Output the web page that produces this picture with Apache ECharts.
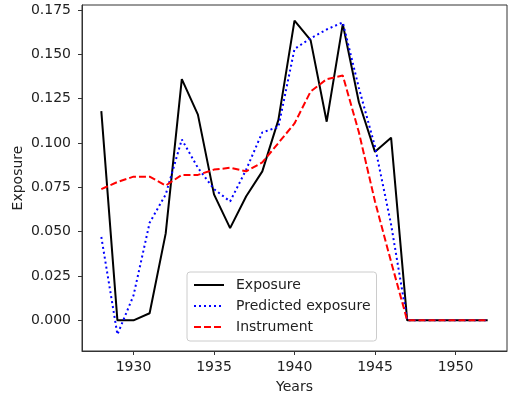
<!DOCTYPE html>
<html>
<head>
<meta charset="UTF-8">
<title>Exposure</title>
<script src="https://cdn.jsdelivr.net/npm/echarts@6/dist/echarts.min.js"></script>
<style type="text/css">
body{ margin:0; padding:0; background:#fff; }
#chart{ width:513px; height:397px; }
</style>
</head>
<body>
<div id="chart"></div>
<script type="text/javascript">
var years = [1928,1929,1930,1931,1932,1933,1934,1935,1936,1937,1938,1939,1940,1941,1942,1943,1944,1945,1946,1947,1948,1949,1950,1951,1952];
var exposure = [0.118,0.000,0.000,0.004,0.049,0.136,0.116,0.071,0.052,0.070,0.084,0.113,0.169,0.158,0.112,0.167,0.123,0.095,0.103,0,0,0,0,0,0];
var predicted = [0.047,-0.008,0.014,0.055,0.071,0.102,0.086,0.074,0.067,0.085,0.106,0.109,0.153,0.159,0.164,0.168,0.131,0.098,0.054,0,0,0,0,0,0];
var instrument = [0.074,0.078,0.081,0.081,0.076,0.082,0.082,0.085,0.086,0.084,0.089,0.100,0.111,0.129,0.136,0.138,0.106,0.067,0.033,0,0,0,0,0,0];
var xTicks = [1930,1935,1940,1945,1950];
var yTicks = [0,0.025,0.05,0.075,0.1,0.125,0.15,0.175];

function pairs(v){
  var out = [];
  for (var i = 0; i < years.length; i++) out.push([years[i], v[i]]);
  return out;
}

var myChart = echarts.init(document.getElementById('chart'));
var font = 'DejaVu Sans';

var option = {
  animation: false,
  grid: { left: 82, right: 6, top: 5, bottom: 46, show: true, borderColor: '#333', borderWidth: 1,
    outerBoundsMode: 'none', containLabel: false },
  xAxis: {
    type: 'value', min: 1926.8, max: 1953.2,
    name: 'Years', nameLocation: 'middle', nameGap: 29, nameMoveOverlap: false,
    nameTextStyle: { fontFamily: font, fontSize: 14, color: '#222' },
    axisLine: { show: true, onZero: false, lineStyle: { color: '#333' } },
    axisTick: { show: true, length: 4, customValues: xTicks, lineStyle: { color: '#333' } },
    axisLabel: { customValues: xTicks, fontFamily: font, fontSize: 14, color: '#222', margin: 9,
      formatter: function(v){ return String(v); } },
    splitLine: { show: false }
  },
  yAxis: {
    type: 'value', min: -0.0173, max: 0.1778,
    name: 'Exposure', nameLocation: 'middle', nameGap: 57, nameMoveOverlap: false,
    nameTextStyle: { fontFamily: font, fontSize: 14, color: '#222' },
    axisLine: { show: true, onZero: false, lineStyle: { color: '#333' } },
    axisTick: { show: true, length: 4, customValues: yTicks, lineStyle: { color: '#333' } },
    axisLabel: { customValues: yTicks, fontFamily: font, fontSize: 14, color: '#222', margin: 11,
      formatter: function(v){ return v.toFixed(3); } },
    splitLine: { show: false }
  },
  legend: {
    orient: 'vertical', left: 187, top: 272,
    padding: [6, 6, 7, 6],
    itemGap: 7, itemWidth: 30, itemHeight: 14,
    borderColor: '#ccc', borderWidth: 1, borderRadius: 3,
    backgroundColor: 'rgba(255,255,255,0.8)',
    itemStyle: { opacity: 0 },
    textStyle: { fontFamily: font, fontSize: 14, color: '#222', padding: [0, 0, 0, 7] },
    data: ['Exposure', 'Predicted exposure', 'Instrument']
  },
  series: [
    { name: 'Exposure', type: 'line', symbol: 'none', data: pairs(exposure),
      color: '#000', lineStyle: { color: '#000', width: 2 } },
    { name: 'Predicted exposure', type: 'line', symbol: 'none', data: pairs(predicted),
      color: '#0000ff', lineStyle: { color: '#0000ff', width: 2, type: [2, 3] } },
    { name: 'Instrument', type: 'line', symbol: 'none', data: pairs(instrument),
      color: '#ff0000', lineStyle: { color: '#ff0000', width: 2, type: [7, 3] } }
  ]
};

myChart.setOption(option);
</script>
</body>
</html>
